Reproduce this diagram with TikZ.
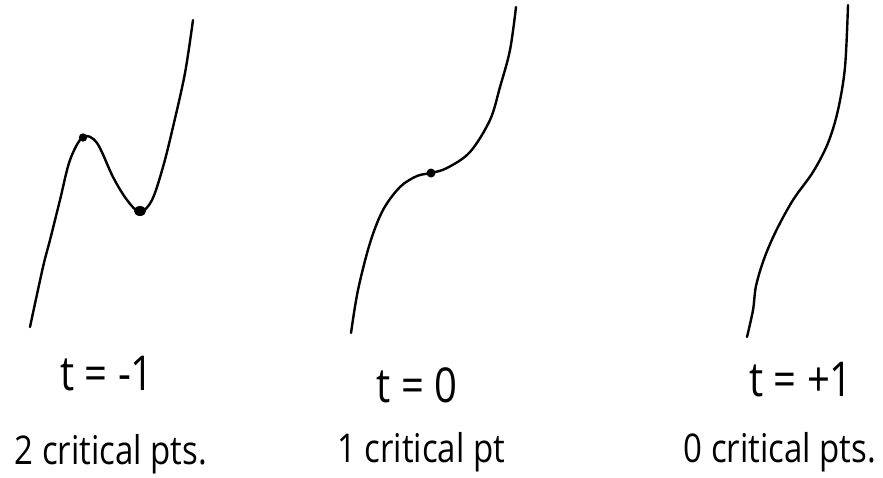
\documentclass[tikz,border=0pt]{standalone}
\usepackage{fontspec}
\usepackage{graphicx}
\setmainfont{Open Sans}
\tikzset{
  curve/.style={line width=2.4pt, line cap=round, line join=round, smooth, tension=0.55},
  crit/.style={fill=black},
  tlabel/.style={anchor=base, inner sep=0pt, font=\fontsize{40}{44}\selectfont},
  clabel/.style={anchor=base, inner sep=0pt, font=\fontsize{33}{38}\selectfont},
}
\begin{document}
\begin{tikzpicture}[x=1pt,y=-1pt]
\useasboundingbox (0,0) rectangle (883,477);
% curve t=-1
\draw[curve] plot coordinates {(30,327) (43,267) (50,240) (60,200) (70,160) (83,137) (97,143) (113,177) (127,200) (140,212) (152,200) (163,167) (173,127) (185,73) (193,20)};
\coordinate (max1) at (83,137.5);
\coordinate (min1) at (140,211);
\fill[crit] (max1) circle (4.2);
\fill[crit] (min1) ellipse (6 and 5);
% curve t=0
\draw[curve] plot coordinates {(351,333) (358,290) (370,243) (383,210) (400,187) (417,176) (431,173) (447,168) (470,152) (490,120) (500,87) (510,50) (516,7)};
\coordinate (inf2) at (431,173);
\fill[crit] (inf2) circle (4.5);
% curve t=+1
\draw[curve] plot coordinates {(747,337) (753,310) (756,286) (764,259) (776,231) (793,200) (813,172) (828,143) (838,110) (845,67) (848,5)};
% labels
\node[tlabel] (t1) at (107,390) {\scalebox{1}[1.2]{t = -1}};
\node[tlabel] (t2) at (417,402) {\scalebox{1}[1.2]{t = 0}};
\node[tlabel] (t3) at (801,396) {\scalebox{1}[1.2]{t = +1}};
\node[clabel] (c1) at (111,464) {\scalebox{1}[1.2]{2 critical pts.}};
\node[clabel] (c2) at (421,462) {\scalebox{1}[1.2]{1 critical pt}};
\node[clabel] (c3) at (780,462) {\scalebox{1}[1.2]{0 critical pts.}};
\end{tikzpicture}
\end{document}
